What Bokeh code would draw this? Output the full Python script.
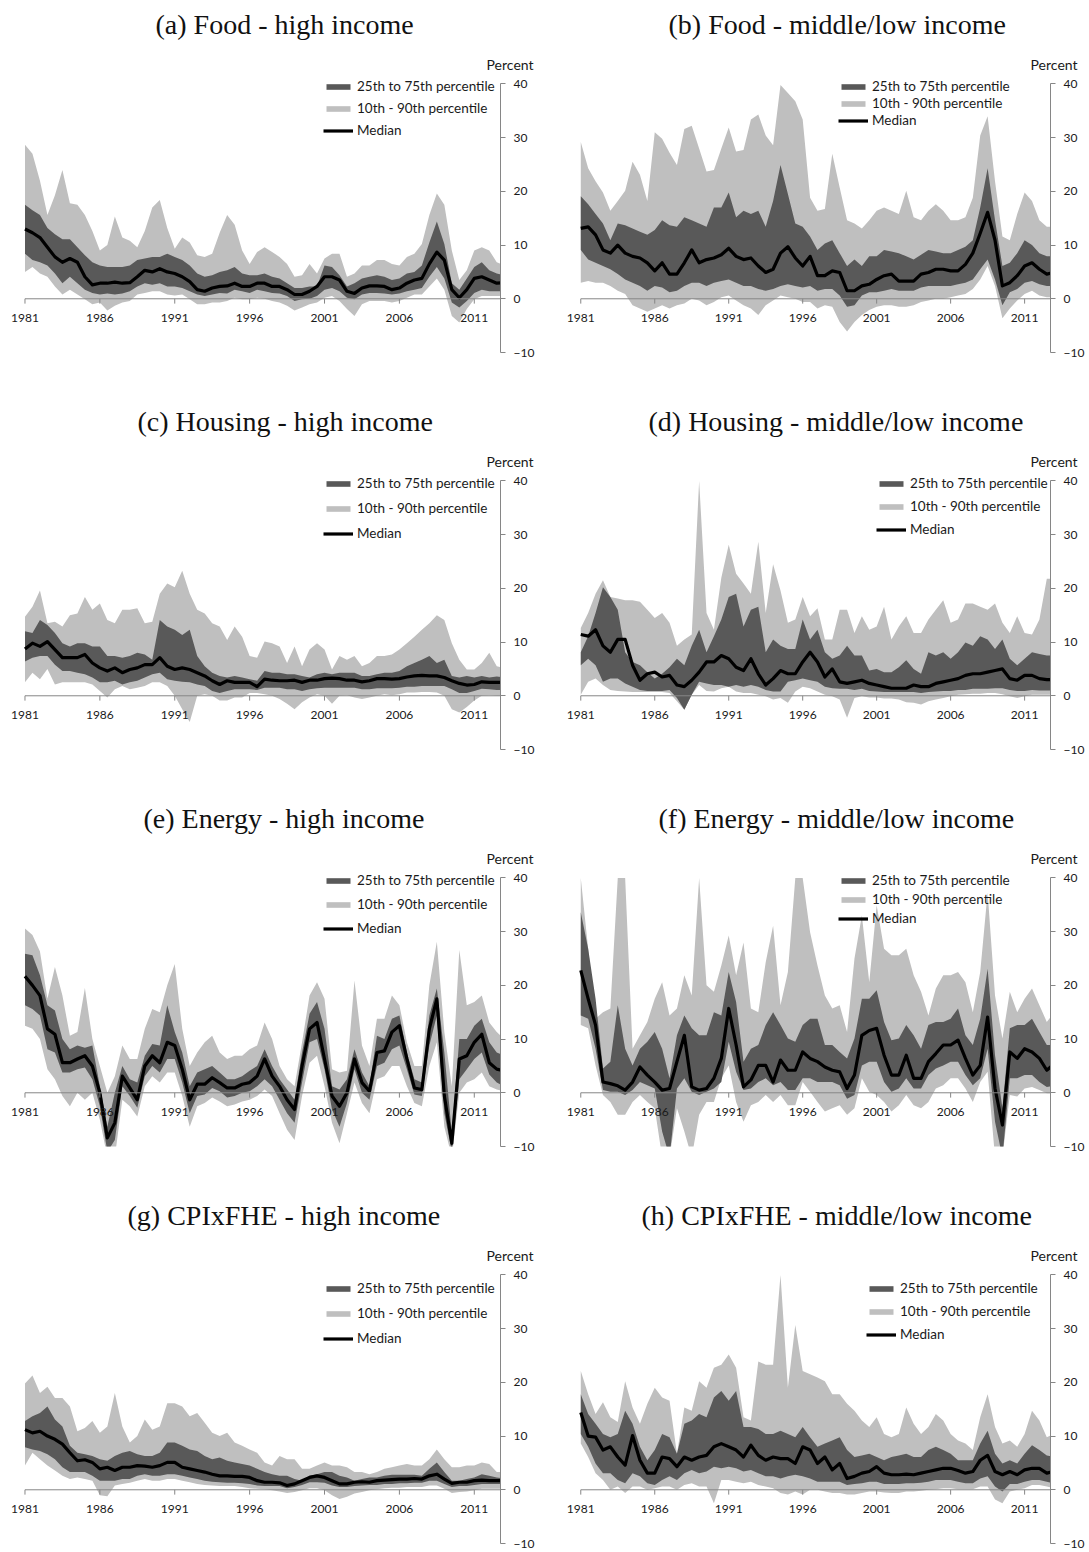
from bokeh.plotting import figure
from bokeh.layouts import column, row
from bokeh.models import Range1d, FixedTicker, Legend, LegendItem, Title
from bokeh.embed import file_html
from bokeh.resources import INLINE
from bokeh.core.properties import value

# ---------------- data (half-year grid, 1981.0 .. 2013.0) ----------------
YEARS = [1981 + 0.5 * i for i in range(65)]
TICK_YEARS = [1981, 1986, 1991, 1996, 2001, 2006, 2011]
TICK_LABELS = ["1981", "1986", "1991", "1996", "2001", "2006", "2011"]
Y_TICKS = [-10, 0, 10, 20, 30, 40]

TITLES = ["(a) Food - high income", "(b) Food - middle/low income",
          "(c) Housing - high income", "(d) Housing - middle/low income",
          "(e) Energy - high income", "(f) Energy - middle/low income",
          "(g) CPIxFHE - high income", "(h) CPIxFHE - middle/low income"]
LEGEND_LABELS = ["25th to 75th percentile", "10th - 90th percentile", "Median"]
UNIT_LABEL = "Percent"

FOOD_HI_P90 = [28.7, 27, 22, 15.6, 19.3, 24, 17.8, 17.5, 15.6, 12.6,
               9, 10, 15.3, 11.4, 10.8, 9.6, 12.6, 17, 18.4, 13.2,
               9.3, 11.4, 10.5, 8.1, 7.8, 8.4, 12.3, 15.6, 13.8, 9,
               6.5, 8.7, 9.6, 8.7, 7.8, 6.5, 4.1, 4.4, 6.5, 4.7,
               7.5, 8.4, 8.4, 4.1, 4.7, 6.2, 6.2, 7.2, 7.2, 6.5,
               6.2, 7.8, 8.4, 10.2, 15.6, 19.6, 17.5, 9, 3.5, 5.3,
               9, 9.6, 9, 6.8, 6.2]
FOOD_HI_P75 = [17.5, 16.5, 15.6, 13.2, 12, 11.1, 11.1, 9.6, 8.1, 6.8,
               6.2, 5.9, 5.9, 5.9, 6.2, 7.2, 7.5, 7.8, 7.8, 8.4,
               7.8, 7.2, 6.2, 4.7, 4.1, 4.4, 5, 5.3, 5.9, 4.7,
               4.4, 4.4, 4.7, 4.1, 3.8, 2.9, 2, 2, 2.3, 2.3,
               6.2, 5.9, 4.4, 2.3, 2.9, 3.8, 4.1, 4.4, 4.1, 3.5,
               3.8, 4.7, 5, 6.2, 10.5, 14.4, 10.2, 2.9, 1.7, 3.8,
               5.9, 6.8, 5.3, 4.7, 4.4]
FOOD_HI_MED = [13, 12.3, 11.4, 9.6, 7.8, 6.8, 7.5, 6.8, 4.1, 2.6,
               2.9, 2.9, 3.1, 2.9, 3, 4.1, 5.3, 5, 5.6, 5,
               4.7, 4.1, 3.2, 1.7, 1.4, 2, 2.3, 2.4, 2.9, 2.3,
               2.3, 2.9, 2.9, 2.3, 2.3, 1.7, 0.8, 0.8, 1.4, 2.3,
               4.1, 4.1, 3.5, 1.4, 1, 2, 2.4, 2.4, 2.3, 1.7,
               2, 2.9, 3.5, 3.8, 6.5, 8.7, 7.2, 1.7, 0.2, 1.7,
               3.8, 4.1, 3.5, 2.9, 3]
FOOD_HI_P25 = [8.4, 7.2, 6.8, 6.2, 4.7, 2.9, 4.1, 2.9, 1.7, 1.1,
               0.8, 1, 0.8, 1, 1.4, 2.3, 2.9, 2.6, 2.9, 2.3,
               2.3, 2, 1.4, 0.8, 0.5, 0.8, 1.1, 1, 1.7, 1.4,
               1.1, 1.7, 1.4, 1.1, 1, 0.5, -0.4, -0.1, 0, 0.5,
               1.7, 2, 1.4, 0.2, -0.1, 0.8, 1.1, 1.1, 1, 0.8,
               1, 1.4, 1.7, 2, 4.1, 5.9, 3.8, -0.7, -1.6, -0.4,
               1.1, 1.7, 1.4, 1.4, 1.4]
FOOD_HI_P10 = [5, 5.9, 4.7, 4.1, 2.3, 0.8, 1.7, 0.8, -0.1, -1,
               -0.7, -2.2, -1.3, -0.7, -0.4, 0.8, 1.1, 1.4, 1.4, 0.8,
               0.6, 0.8, -0.1, -1, -1, -0.7, -0.7, -0.4, 0.2, -0.1,
               -0.1, 0.2, 0, -0.4, -0.7, -1.3, -2.2, -1.6, -1, -0.7,
               0.2, 0.5, -0.4, -1.9, -3.2, -1, -0.4, -0.4, -0.4, -0.7,
               -0.4, 0.2, 0.8, 0.8, 2.3, 3.8, 1.7, -3.2, -4.4, -1.9,
               -0.1, 0.5, 0.5, 0.5, 0.5]

FOOD_LO_P90 = [29.2, 24.3, 21.9, 19.8, 16.4, 18.2, 20.1, 25.5, 23.1, 18.2,
               31, 29.8, 27.2, 24.9, 31.6, 32.2, 28, 23.7, 24, 28,
               31.9, 27.4, 27.7, 33.4, 34.3, 30.4, 28.6, 39.8, 38.3, 36.8,
               33.4, 18.8, 16.4, 16.7, 27, 20.7, 14.6, 14, 13.1, 14.6,
               16.4, 17, 16.4, 15.8, 20.1, 15.2, 14.6, 16.4, 17.6, 16.4,
               14.6, 14.6, 15.2, 18.8, 30.4, 34, 21.9, 11.6, 10.9, 15.8,
               19.8, 18.2, 14.6, 13.4, 13.4]
FOOD_LO_P75 = [19.1, 17.6, 15.8, 14, 10.9, 14, 13.7, 13.1, 12.5, 11.9,
               12.8, 14.6, 13.7, 13.4, 15.2, 14.6, 14, 13.4, 17, 17,
               19.8, 15.2, 16.4, 15.8, 16.4, 13.4, 18.2, 24.9, 19.5, 14,
               13.4, 11.6, 9.1, 10.3, 10.9, 8.5, 6.1, 7.3, 6.1, 7.9,
               7.9, 9.1, 8.8, 8.5, 7.9, 7.3, 8.2, 9.1, 8.8, 8.5,
               8.5, 9.1, 9.7, 10.9, 17, 24.3, 14.6, 6.1, 6.7, 8.5,
               10.9, 10, 8.5, 7.9, 7.9]
FOOD_LO_MED = [13.1, 13.4, 11.9, 9.1, 8.5, 10, 8.5, 7.9, 7.6, 6.7,
               5.2, 6.7, 4.6, 4.6, 6.7, 9.1, 6.7, 7.3, 7.6, 8.2,
               9.4, 7.9, 7.3, 7.6, 6.1, 4.9, 5.5, 8.5, 9.7, 7.6,
               6.1, 7.9, 4.3, 4.3, 5.2, 4.9, 1.5, 1.5, 2.4, 2.7,
               3.6, 4.3, 4.6, 3.3, 3.3, 3.3, 4.6, 4.9, 5.5, 5.5,
               5.2, 5.2, 6.4, 8.5, 12.2, 16.1, 10.9, 2.4, 3, 4.3,
               6.1, 6.7, 5.5, 4.6, 4.9]
FOOD_LO_P25 = [9.1, 7.3, 6.7, 6.1, 5.5, 4.6, 3.6, 3, 2.4, 1.5,
               2.4, 2.1, 1.2, 1.5, 2.4, 3, 3, 2.4, 3, 3.3,
               3.6, 3, 2.4, 2.4, 1.8, 1.5, 1.8, 2.4, 2.7, 2.4,
               2.1, 2.4, 1.5, 1.8, 1.8, 0.6, -1.5, -1.2, 0.6, 1.2,
               1.2, 1.5, 1.8, 1.5, 1.5, 1.5, 2.1, 2.4, 2.4, 2.4,
               2.4, 2.7, 3, 3.6, 5.5, 7.3, 3.6, -1.2, 1.2, 1.8,
               3, 3.3, 2.7, 2.4, 2.4]
FOOD_LO_P10 = [3, 3.3, 3, 3, 2.4, 1.5, 0.9, -1.2, -1.8, -2.4,
               -1.8, -1.2, -1.8, -1.2, -0.9, 0, -0.3, -1.2, -0.6, 0.3,
               0.6, -0.3, -1.2, -1.8, -3, -1.2, -0.3, 0.6, 0.3, 0,
               -0.6, -0.6, -1.8, -1.2, -1.5, -4.3, -6.1, -4.3, -3, -2.1,
               -1.5, -1.2, -1.2, -1.5, -1.5, -1.2, -0.6, -0.3, 0, 0,
               0.3, 0.6, 0.9, 1.8, 3.6, 6.1, 2.4, -3.6, -1.8, -0.3,
               0.9, 1.5, 0.6, 0.3, 0.3]

HOUS_HI_P90 = [14.7, 16.6, 19.6, 13.5, 13.8, 12.9, 15, 15.3, 18.4, 16,
               17.2, 14.1, 13.5, 16, 16, 16.3, 13.5, 13.8, 19, 20.9,
               20.2, 23.3, 19, 16, 15.3, 13.5, 12.9, 10.4, 12.9, 11,
               7.4, 7.1, 10.1, 9.8, 9.2, 6.1, 9.2, 5.5, 8.6, 9.8,
               8.6, 4.9, 7.4, 6.7, 7.4, 5.5, 6.1, 7.4, 7.4, 7.7,
               8.6, 9.8, 11, 12.3, 13.5, 15, 14.1, 9.8, 6.7, 4.9,
               4.9, 6.1, 8, 5.5, 5.2]
HOUS_HI_P75 = [12, 11.7, 14.1, 13.2, 11.7, 9.8, 9.2, 9.8, 9.8, 9.2,
               9.2, 7.4, 7.4, 7.1, 7.4, 8, 7.7, 6.7, 14.1, 12.9,
               12.3, 11.3, 12.3, 7.4, 5.5, 4.3, 3.7, 3.4, 3.7, 3.4,
               3.1, 2.8, 4.6, 4.3, 4.3, 4, 4, 3.7, 3.4, 4,
               4.3, 4, 4.3, 4.3, 4.3, 3.7, 3.7, 4, 4.3, 4.3,
               4.6, 5.5, 6.1, 6.7, 7.4, 6.1, 6.7, 3.7, 3.4, 3.7,
               3.4, 3.7, 3.4, 3.6, 3.4]
HOUS_HI_MED = [8.7, 9.8, 9.2, 10.1, 8.6, 7.1, 7.1, 7.1, 7.7, 6.1,
               5.2, 4.6, 5.2, 4.3, 4.9, 5.2, 5.8, 5.8, 7.1, 5.5,
               4.9, 5.2, 4.9, 4.3, 3.7, 2.8, 2.1, 2.8, 2.5, 2.5,
               2.5, 1.7, 3.1, 2.9, 2.8, 2.8, 2.9, 2.5, 2.9, 2.9,
               3.2, 3.3, 3.2, 2.9, 2.9, 2.6, 2.8, 3.2, 3.2, 3.1,
               3.2, 3.5, 3.7, 3.8, 3.7, 3.7, 3.4, 2.8, 2.3, 2,
               2.1, 2.6, 2.5, 2.5, 2.5]
HOUS_HI_P25 = [6.4, 7.1, 7.4, 7.4, 5.8, 4.6, 4.6, 4.3, 4, 3.4,
               2.5, 2.5, 2.8, 2.1, 2.5, 2.8, 3.4, 4, 4.3, 3.1,
               2.8, 2.6, 2.5, 2.1, 1.8, 0.9, 0.5, 0.9, 1.2, 1.2,
               1.2, 1.1, 1.5, 1.5, 1.5, 1.2, 1.2, 0.9, 1.2, 1.4,
               1.5, 1.5, 1.5, 1.5, 1.5, 1.2, 1.2, 1.4, 1.4, 1.4,
               1.5, 1.7, 1.7, 1.8, 1.8, 1.8, 1.8, 1.2, 0.5, 0.5,
               0.9, 1.3, 1.2, 1.1, 1.1]
HOUS_HI_P10 = [2.5, 4.3, 3.1, 5, 2.1, 2.5, 2.5, 2.5, 2.5, 2.1,
               0.9, -0.3, 1.2, 1.8, 1.2, 1.5, 1.8, 2.5, 2.5, 1.8,
               0, -2.5, -4.9, 0, 0.3, 0, -0.9, -0.9, -0.3, -0.3,
               0.5, 0.5, 0.3, 0, -0.6, -1.5, -2.5, -1.2, -0.3, 0.3,
               0, -1.5, 0, 0.1, -0.3, -0.6, -0.3, 0, 0.3, 0.1,
               0.3, 0.6, 0.6, 0.7, 0.7, 0.6, 0, -2.5, -3.1, -2.1,
               -0.9, 0, 0.1, 0, 0]

HOUS_LO_P90 = [12.6, 15.4, 19, 21.5, 18.4, 18.1, 17.8, 17.8, 17.5, 16,
               14.5, 15.4, 13.6, 9.3, 10.5, 11.4, 40, 15.4, 12.3, 22,
               28.1, 22.7, 20.9, 19, 28.7, 15.4, 24.5, 19.6, 13.6, 14.2,
               18.4, 14.8, 16.3, 10.5, 10.5, 16, 16, 11.7, 14.8, 12.3,
               12.9, 16.6, 10.5, 12.9, 14.8, 11.7, 11.7, 14.2, 16, 17.8,
               13.6, 14.2, 17.2, 17.2, 16.6, 16, 17.2, 13.6, 11.7, 14.8,
               11.7, 11.4, 14.2, 21.8, 21.8]
HOUS_LO_P75 = [8.1, 11.1, 15.4, 20.2, 18.4, 16, 8.1, 6.3, 5.7, 4.4,
               3.2, 4.1, 5.3, 6.9, 5.7, 9.3, 12.3, 8.1, 11.1, 14.2,
               18.4, 19, 12.9, 16, 16.6, 8.1, 10.5, 9.3, 8.7, 8.7,
               14.2, 10.5, 12.3, 8.1, 6.9, 7.5, 9.3, 7.5, 7.5, 4.7,
               5, 4.4, 4.4, 5.3, 6.6, 5, 4.1, 8.1, 7.5, 8.1,
               6.9, 8.1, 9.9, 9.3, 11.1, 10.5, 8.7, 10.5, 6.9, 5.7,
               6.9, 8.1, 7.8, 7.5, 7.5]
HOUS_LO_MED = [11.4, 11.1, 12.3, 9.3, 8.1, 10.5, 10.5, 5.7, 2.9, 4.1,
               4.4, 3.5, 3.8, 2, 1.7, 2.9, 4.4, 6.3, 6.3, 7.5,
               6.9, 5.3, 4.7, 6.9, 4.1, 2, 3.2, 4.7, 4.1, 4.1,
               6.3, 8.1, 6.3, 3.5, 5, 2.6, 2.3, 2.6, 2.9, 2.3,
               2, 1.7, 1.4, 1.4, 1.4, 2, 1.7, 1.7, 2.3, 2.6,
               2.9, 3.2, 3.8, 4.1, 4.1, 4.4, 4.7, 5, 3.2, 2.9,
               3.8, 3.8, 3.2, 3, 3]
HOUS_LO_P25 = [5.7, 6.9, 5.7, 2.6, 3.2, 3.2, 2.3, 1.7, 1.1, 0.9,
               0.9, 0.9, 1.1, -0.4, -2.6, 0.2, 2.6, 2.3, 2, 2,
               1.7, 2, 1.7, 2, 1.7, 1.1, 0.8, 0.8, 2.6, 2.9,
               3.2, 2.9, 2.6, 1.7, 1.4, 1.3, 1.3, 1.1, 1.3, 0.9,
               0.8, 0.7, 0.7, 0.7, 0.7, 0.7, 0.5, 0.7, 0.8, 0.9,
               0.9, 1.1, 1.1, 1.3, 1.3, 1.3, 1.4, 1.4, 1.1, 0.9,
               0.9, 1.1, 1, 1, 1]
HOUS_LO_P10 = [0.2, 2.6, 3.2, 2, 1.1, 0.9, 0.8, 0.7, 0.7, 0.7,
               0.7, 0.7, 0.5, -1, -2.6, 0.2, 2, 0.9, 0.8, 1.4,
               1.7, 0.8, 0.5, 0.5, 0.2, -0.1, -0.7, -0.4, -1.3, 0.8,
               1.7, 1.4, 0.8, 0.2, -0.1, -0.7, -4.1, -0.4, -0.1, -0.3,
               -0.3, -0.5, -0.5, -0.7, -1.2, -1.3, -1.6, -1, -0.7, -0.4,
               -0.1, 0.2, 0.3, 0.4, 0.4, 0.5, 0.5, 0.3, -0.1, -0.4,
               -0.1, 0.2, 0.2, 0.2, 0.2]

ENER_HI_P90 = [30.6, 29.4, 26.3, 17.5, 23.4, 18.1, 10.6, 11.3, 19.5, 10,
               5, 0, 3.1, 8.8, 6.3, 6.3, 11.9, 15.6, 15, 20,
               24, 11.9, 5, 7.5, 9.4, 10.6, 7.5, 6.3, 6.9, 6.9,
               8.1, 8.8, 13.1, 10, 5, 2.5, 1.2, 9.4, 18.1, 20.6,
               17.5, 4.4, 3.8, 4.1, 20.9, 8.8, 5, 13.8, 13.8, 18.1,
               16.3, 9.4, 5, 5, 20, 28.1, 11.3, 1.2, 26.6, 16.3,
               16.9, 18.1, 13.1, 11.3, 10]
ENER_HI_P75 = [25.9, 25.6, 21.9, 16.3, 15.3, 10, 8.1, 8.8, 8.4, 8.8,
               1.2, -6.3, 0, 5, 2.5, 1.9, 6.9, 9.1, 8.8, 16.3,
               11.3, 7.5, 1.2, 3.8, 4.4, 5, 3.8, 2.5, 2.5, 3.1,
               4.1, 5, 8.1, 5, 2.5, 0.6, -1.3, 7.5, 14.7, 16.9,
               11.9, 1.2, 0.6, 2.5, 8.1, 3.8, 1.2, 10.6, 10, 13.8,
               14.4, 7.5, 2.5, 1.9, 14.4, 19.4, 7.5, -7.5, 10, 10,
               12.5, 13.8, 9.4, 7.5, 6.9]
ENER_HI_MED = [21.7, 20, 18.1, 11.9, 10.9, 5.6, 5.6, 6.3, 6.9, 5,
               0, -8.4, -5.6, 3.1, 0.9, -1.3, 5, 6.9, 5.6, 9.4,
               8.8, 4.4, -1.3, 1.6, 1.6, 2.8, 1.9, 0.9, 0.9, 1.6,
               1.9, 3.1, 6.3, 3.1, 1.2, -1.3, -3.1, 5, 11.9, 13.1,
               6.3, -0.6, -2.5, 0, 6.3, 1.9, 0.3, 7.5, 7.8, 11.3,
               12.5, 6.3, 0.9, 0.6, 11.9, 17.5, -0.6, -9.4, 6.3, 6.9,
               9.4, 10.9, 5.6, 4.4, 4.1]
ENER_HI_P25 = [16.3, 15.6, 14.4, 8.1, 7.5, 3.8, 3.8, 4.4, 4.7, 2.5,
               -2.5, -11, -8.8, 1.2, -0.6, -2.8, 3.1, 5, 3.8, 6.3,
               6.3, 1.9, -3.8, -0.6, -0.3, 0.9, 0.3, -0.9, -0.6, 0,
               0.3, 1.2, 2.5, 1.2, -1.3, -3.8, -5.6, 1.9, 9.4, 10,
               4.4, -3.1, -6.3, -1.9, 4.4, 0, -1.3, 5, 5.6, 8.1,
               8.8, 4.4, -0.3, -0.6, 8.8, 14.4, -3.8, -11, 2.5, 4.4,
               6.3, 7.5, 3.4, 1.9, 1.2]
ENER_HI_P10 = [12.5, 11.9, 10, 4.4, 2.5, -0.6, -2.5, 0, -1.3, 0,
               -5, -12, -12, -1.3, -2.5, -4.4, 1.2, 3.1, 1.9, 3.8,
               3.8, -0.6, -6.3, -2.5, -1.9, -0.9, -1.6, -2.5, -2.2, -1.6,
               -1.3, -0.6, 0.6, -0.6, -3.8, -6.9, -8.8, -0.6, 5.6, 6.9,
               1.2, -5.6, -9.4, -3.8, 1.9, -1.9, -3.8, 2.5, 3.1, 5,
               5, 1.2, -1.9, -2.5, 5, 9.4, -6.3, -12, 0, 1.9,
               2.5, 3.8, 1.2, 0.6, 0.3]

ENER_LO_P90 = [40, 26.8, 13.8, 15, 15.7, 40, 40, 8.2, 10.7, 13.2,
               17.5, 20.6, 14.4, 15.7, 21.9, 18.1, 40, 20, 18.8, 23.7,
               29.3, 21.9, 28, 15.7, 15, 24.3, 31.1, 16.3, 22.5, 40,
               40, 29.9, 23.7, 18.1, 15.7, 16.3, 11.3, 25, 33, 20.6,
               34.9, 26.8, 25.6, 25.6, 26.8, 21.9, 18.8, 14.4, 19.4, 21.9,
               21.9, 22.5, 20.6, 15, 22.5, 37.3, 18.1, 10.1, 18.8, 15,
               17.5, 19.4, 16.3, 13.2, 15]
ENER_LO_P75 = [33.6, 26.8, 17.5, 4.5, 5.8, 16.3, 8.2, 5.1, 8.2, 9.5,
               11.3, 8.2, 2.7, 10.7, 14.4, 12, 10.7, 10.7, 15, 14.4,
               22.5, 16.9, 5.8, 8.2, 8.9, 12.6, 15, 12.6, 10.1, 9.5,
               12.6, 13.8, 13.8, 8.9, 8.9, 7.6, 6.4, 10.1, 17.5, 17.5,
               19.1, 13.2, 9.8, 10.1, 12.6, 10.7, 8.2, 12.6, 13.2, 13.2,
               13.8, 15.7, 10.7, 8.9, 13.8, 23.1, 7, -2.9, 12, 12.6,
               12.6, 13.8, 11.3, 8.9, 8.9]
ENER_LO_MED = [22.8, 17.5, 12.6, 2, 1.7, 1.3, 0.5, 2, 4.8, 3.3,
               2, 0.5, 0.8, 5.8, 10.7, 1.1, 0.5, 0.8, 2.7, 6.4,
               15.7, 8.9, 1.1, 2.4, 5.1, 5.1, 2, 6.1, 4.2, 4.2,
               7.6, 6.4, 5.8, 4.8, 4.2, 3.9, 0.8, 3.3, 10.7, 11.6,
               12, 7, 3.3, 3.3, 7, 2.7, 2.7, 5.8, 7.3, 8.9,
               8.9, 9.8, 6.4, 3.3, 5.1, 14.1, 0.8, -6, 7.6, 6.4,
               8.2, 7.6, 6.4, 4.2, 5.4]
ENER_LO_P25 = [14.4, 13.8, 8.2, 0.5, 0.2, 0.2, -0.4, 0.5, 2, 1.4,
               0.8, -7.2, -12, 0.8, 2.7, 0.2, -0.4, 0.2, 0.8, 2,
               9.5, 3.9, 0.5, 0.8, 2, 2.7, 1.4, 2, 0.5, 0.5,
               2.7, 2.7, 2, 2, 2, 1.4, -1.1, -0.4, 5.1, 5.8,
               5.8, 2, 0.2, 0.8, 2.7, 0.8, 0.8, 3.3, 4.5, 5.1,
               5.8, 5.8, 3.3, 1.4, 2.7, 8.2, -5.4, -12, 2.7, 2.7,
               3.3, 3.3, 2, 1.1, 1.3]
ENER_LO_P10 = [12.6, 12, 5.1, -0.4, -1.7, -4.1, -4.1, -1.7, -0.4, -1.7,
               -2.9, -12, -12, -2.9, -7.2, -12, -4.1, -1.7, -1.7, 2.7,
               5.1, -1.7, -5.4, -2.3, -1.7, -0.4, -1.7, -0.4, -2.3, -2.3,
               2, 0.2, -1.7, -3.5, -2.9, -2.3, -4.1, -2.9, 2.7, 0.2,
               -0.4, -1.7, -3.5, -2.3, -0.4, -2.3, -2.9, -1.7, 0.8, 1.4,
               2.7, 2.7, 0.8, -1.7, 2, 3.9, -12, -12, -0.4, -0.7,
               0.8, 1.1, 0.5, -0.1, -0.1]

CORE_HI_P90 = [19.8, 21.3, 18, 19.2, 17.1, 17.1, 15.5, 10.9, 11.5, 12.8,
               10.6, 11.8, 18, 11.8, 8.8, 10, 13.1, 11.2, 11.8, 16.1,
               16.1, 15.5, 13.7, 14.3, 12.5, 10.6, 10, 10.6, 8.8, 8.2,
               7.5, 6.9, 5.1, 4.5, 6.3, 5.7, 5.7, 3.9, 3.9, 4.5,
               5.1, 4.5, 4.5, 4.2, 3.3, 3.3, 2.9, 3.3, 3.9, 4.2,
               4.5, 4.8, 4.5, 4.5, 5.7, 7.5, 5.7, 4.2, 4.2, 4.5,
               4.5, 5.1, 4.8, 3.3, 3.3]
CORE_HI_P75 = [12.8, 13.7, 14.3, 15.5, 13.1, 11.8, 8.2, 6.9, 6.6, 6.3,
               5.7, 5.4, 6.3, 6.9, 7.2, 6.6, 6.3, 6.3, 6.9, 8.8,
               8.8, 8.2, 7.5, 7.2, 6.3, 5.7, 6, 5.4, 5.1, 4.8,
               4.5, 3.9, 3.3, 2.9, 2.6, 2.6, 2, 1.7, 2.6, 2.9,
               3.3, 3.3, 2.6, 2.3, 1.7, 2, 2.3, 2.3, 2.6, 2.8,
               2.8, 2.8, 2.8, 2.6, 3.9, 5.1, 3.3, 1.7, 1.7, 2,
               2.3, 2.9, 2.6, 2.3, 2.1]
CORE_HI_MED = [11.2, 10.6, 10.9, 10, 9.4, 8.5, 6.9, 5.4, 5.6, 5.1,
               3.9, 4.2, 3.6, 4.2, 4.2, 4.5, 4.4, 4.2, 4.5, 5.1,
               5.1, 4.2, 3.9, 3.6, 3.3, 2.9, 2.6, 2.6, 2.5, 2.5,
               2.3, 1.7, 1.4, 1.4, 1.3, 0.8, 1.1, 1.7, 2.3, 2.6,
               2.3, 1.7, 1.1, 1.1, 1.4, 1.5, 1.4, 1.7, 1.8, 1.9,
               2, 2, 2.1, 2, 2.6, 2.9, 2, 1.2, 1.4, 1.4,
               1.7, 1.8, 1.7, 1.7, 1.7]
CORE_HI_P25 = [7.9, 7.5, 7.2, 6.6, 5.7, 4.2, 3.3, 3.3, 3.3, 2.6,
               1.7, 1.7, 1.7, 2, 2, 2.6, 2.9, 2.6, 2.6, 2.9,
               2.9, 2.6, 2.3, 2, 1.7, 1.5, 1.4, 1.3, 1.3, 1.2,
               1.1, 0.8, 0.7, 0.7, 0.7, 0.3, 0.5, 0.9, 1.4, 1.4,
               1.3, 0.8, 0.5, 0.5, 0.7, 0.8, 0.9, 0.9, 1.1, 1.1,
               1.2, 1.2, 1.3, 1.3, 1.7, 1.7, 1.1, 0.5, 0.7, 0.7,
               0.9, 1.1, 1.1, 1.1, 1.1]
CORE_HI_P10 = [4.5, 6.9, 5.7, 4.5, 3.6, 2.6, 2, 2.3, 2, 1.7,
               -1, -1.2, 0.8, 1.1, 1.3, 1.7, 2, 1.7, 1.7, 2,
               2, 1.7, 1.4, 1.1, 0.9, 0.8, 0.7, 0.7, 0.7, 0.5,
               0.3, 0.2, 0.1, -0.1, -0.3, -0.6, -0.4, -0.1, 0.3, 0.3,
               -0.1, -1, -1.7, -1.3, -0.7, -0.4, -0.1, 0.1, 0.3, 0.4,
               0.4, 0.5, 0.5, 0.5, 0.8, 0.8, 0.2, -0.6, -0.4, -0.3,
               -0.1, 0.2, 0.2, 0.2, 0.2]

CORE_LO_P90 = [22.1, 17.8, 14.1, 16.3, 13.5, 12.6, 20.2, 15.3, 12.3, 16,
               19, 17.2, 16.6, 6.7, 15.3, 14.7, 20.2, 19, 22.7, 23.3,
               25.2, 22.7, 13.5, 12.9, 23.9, 23.3, 23.3, 40, 19, 30.7,
               22.1, 21.5, 20.9, 20.2, 17.8, 17.8, 16, 14.7, 12.9, 11.7,
               13.5, 10.4, 9.8, 10.4, 15.3, 12.3, 10.4, 11.7, 14.1, 12.9,
               10.4, 9.2, 8.6, 7.4, 13.5, 17.8, 11.7, 8.6, 9.2, 8,
               10.4, 14.7, 12.9, 9.8, 10.4]
CORE_LO_P75 = [17.8, 14.1, 12.3, 10.4, 9.8, 10.4, 14.7, 12.3, 8, 5.5,
               7.4, 10.4, 9.8, 6.7, 12.3, 12.9, 14.1, 13.5, 17.2, 18.4,
               16.6, 18.4, 11.7, 11.7, 11.3, 10.4, 10.4, 11, 10.4, 9.8,
               11.7, 9.8, 8, 8.6, 9.2, 9.8, 7.4, 6.1, 6.4, 6.7,
               6.1, 5.5, 6.1, 6.4, 6.7, 6.1, 6.1, 7.4, 8, 7.4,
               6.7, 5.5, 5.5, 5.5, 8.6, 11, 6.7, 4.9, 5.5, 4.9,
               6.7, 8.3, 7.4, 6.4, 6.1]
CORE_LO_MED = [14.4, 10, 9.8, 7.4, 8, 6.1, 4.6, 10.1, 5.5, 3.1,
               3.1, 6.1, 5.8, 4.3, 6.1, 5.5, 6.1, 6.4, 8, 8.6,
               8, 7.4, 6.1, 8.3, 6.4, 5.5, 6.1, 5.8, 5.8, 4.9,
               8, 7.4, 4.9, 6.1, 3.7, 4.9, 2.1, 2.5, 3.1, 3.4,
               4.3, 3.1, 2.8, 2.8, 2.9, 2.8, 3.1, 3.4, 3.7, 4,
               4, 3.6, 3.1, 3.4, 5.5, 6.4, 3.4, 2.8, 3.4, 2.8,
               3.7, 4, 4, 3.1, 3.4]
CORE_LO_P25 = [10.4, 8, 4.9, 3.1, 3.1, 1.8, 1.2, 3.1, 2.5, 1.2,
               0.9, 1.8, 2.5, 1.8, 3.1, 3.7, 3.1, 3.4, 4.3, 4,
               4.3, 4, 3.4, 3.7, 3.1, 2.5, 2.5, 2.1, 2.5, 2.8,
               2.5, 2.1, 1.5, 1.5, 1.5, 1.5, 0.9, 1.1, 1.2, 1.5,
               1.5, 1.1, 1.1, 1.1, 1.2, 1.2, 1.3, 1.5, 1.8, 1.8,
               1.8, 1.5, 1.2, 1.2, 2.1, 2.5, 0.6, -0.3, 1.1, 1.1,
               1.5, 1.8, 1.8, 1.5, 1.2]
CORE_LO_P10 = [8.6, 6.1, 3.1, 1.8, 0, 0.6, -0.6, 0.6, 0.6, 0,
               0.3, 0.6, 0.6, 0, 0.9, 1.2, 0.6, 0.6, -2.5, 1.8,
               1.8, 1.5, 1.2, 1.5, 0.9, 0.6, 0.3, -0.6, -0.9, -0.3,
               -0.9, 0, 0, -0.3, -0.6, -0.6, -0.9, -0.9, -0.6, -0.3,
               -0.3, -0.5, -0.6, -0.6, -0.3, -0.3, -0.2, 0, 0.1, 0.3,
               0.3, 0.1, 0.1, 0.1, 0.6, 0.6, -1.8, -2.5, -0.3, 0,
               0.3, 0.9, 0.9, 0.6, 0.3]

SERIES = [
    (FOOD_HI_P10, FOOD_HI_P25, FOOD_HI_MED, FOOD_HI_P75, FOOD_HI_P90),
    (FOOD_LO_P10, FOOD_LO_P25, FOOD_LO_MED, FOOD_LO_P75, FOOD_LO_P90),
    (HOUS_HI_P10, HOUS_HI_P25, HOUS_HI_MED, HOUS_HI_P75, HOUS_HI_P90),
    (HOUS_LO_P10, HOUS_LO_P25, HOUS_LO_MED, HOUS_LO_P75, HOUS_LO_P90),
    (ENER_HI_P10, ENER_HI_P25, ENER_HI_MED, ENER_HI_P75, ENER_HI_P90),
    (ENER_LO_P10, ENER_LO_P25, ENER_LO_MED, ENER_LO_P75, ENER_LO_P90),
    (CORE_HI_P10, CORE_HI_P25, CORE_HI_MED, CORE_HI_P75, CORE_HI_P90),
    (CORE_LO_P10, CORE_LO_P25, CORE_LO_MED, CORE_LO_P75, CORE_LO_P90),
]

# ---------------- style / layout ----------------
LIGHT = "#bfbfbf"
DARK = "#595959"
AXIS_GRAY = "#868686"
TEXT_COLOR = "#1a1a1a"
X_START, X_END = 1979.9, 2012.75
Y_START, Y_END = -10, 41.2
FRAME_H = 276
TOP = 76
ITEM_H = 17
Y40_OFF = (Y_END - 40) * FRAME_H / (Y_END - Y_START)

# title left offsets (px from frame left), legend placement:
# (swatch x rel. frame left, first row centre rel. the 40 line, row gap)
TITLE_OFFSETS = [147, 104, 129, 84, 135, 94, 119, 77]
LEGEND_POS = [(315, 4, 22), (274, 4, 17.5), (315, 4, 25), (312, 4, 23.5),
              (315, 4, 24), (274, 4, 19), (315, 15, 25), (302, 15, 23.5)]


def make_panel(idx):
    col = idx % 2
    rw = idx // 2
    p10, p25, med, p75, p90 = SERIES[idx]
    width = 538 if col == 0 else 550
    height = 397 if rw < 3 else 360
    bl = 8 if col == 0 else 26
    br = 38
    p = figure(width=width, height=height, output_backend="svg", toolbar_location=None,
               title=None,
               x_range=Range1d(X_START, X_END), y_range=Range1d(Y_START, Y_END),
               x_axis_location=None, y_axis_location="right",
               min_border_left=bl, min_border_right=br, min_border_top=TOP,
               min_border_bottom=height - TOP - FRAME_H)
    p.outline_line_color = None
    p.grid.visible = False
    p.background_fill_color = "white"
    p.border_fill_color = "white"

    # unit label (nearest to the frame) and panel title above it
    p.add_layout(Title(text=UNIT_LABEL, align="right", offset=-33 if col == 0 else -27,
                       standoff=9, vertical_align="bottom",
                       text_font="Lato", text_font_size="14px", text_font_style="normal",
                       text_color=TEXT_COLOR), "above")
    p.add_layout(Title(text=TITLES[idx], align="left", offset=TITLE_OFFSETS[idx],
                       standoff=16, vertical_align="top",
                       text_font="Liberation Serif", text_font_size="28px",
                       text_font_style="normal", text_color="#111111"), "above")

    ax = p.yaxis[0]
    ax.ticker = FixedTicker(ticks=Y_TICKS)
    ax.bounds = (-10, 40)
    ax.axis_line_color = AXIS_GRAY
    ax.major_tick_line_color = AXIS_GRAY
    ax.minor_tick_line_color = None
    ax.major_tick_in = 0
    ax.major_tick_out = 5
    ax.major_label_standoff = 8
    ax.major_label_text_font = "Lato"
    ax.major_label_text_font_size = "12px"
    ax.major_label_text_color = TEXT_COLOR

    r_light = p.varea(x=YEARS, y1=p10, y2=p90, fill_color=LIGHT, fill_alpha=1)
    r_dark = p.varea(x=YEARS, y1=p25, y2=p75, fill_color=DARK, fill_alpha=1)
    r_med = p.line(x=YEARS, y=med, line_color="black", line_width=3.2, line_join="round")

    # category (horizontal) axis drawn at zero, over the bands
    n = len(TICK_YEARS)
    p.segment(x0=[TICK_YEARS[0]], x1=[X_END], y0=[0], y1=[0],
              line_color=AXIS_GRAY, line_width=1)
    p.segment(x0=TICK_YEARS, x1=TICK_YEARS, y0=[0] * n, y1=[-0.9] * n,
              line_color=AXIS_GRAY, line_width=1)
    p.text(x=TICK_YEARS, y=[0] * n, text=TICK_LABELS,
           text_font=value("Lato"), text_font_size="12px", text_color=TEXT_COLOR,
           text_align="center", text_baseline="middle", y_offset=19)

    lx, first_c, gap = LEGEND_POS[idx]
    spacing = int(round(gap - ITEM_H))
    leg_h = 3 * ITEM_H + 2 * spacing
    ly = FRAME_H - (Y40_OFF + first_c - ITEM_H / 2) - leg_h
    legend = Legend(items=[LegendItem(label=LEGEND_LABELS[0], renderers=[r_dark]),
                           LegendItem(label=LEGEND_LABELS[1], renderers=[r_light]),
                           LegendItem(label=LEGEND_LABELS[2], renderers=[r_med])],
                    location=(lx, ly), orientation="vertical",
                    glyph_width=30, glyph_height=7, label_height=ITEM_H,
                    label_standoff=4, spacing=spacing, padding=0, margin=0,
                    label_text_font="Lato", label_text_font_size="13.5px",
                    label_text_color=TEXT_COLOR,
                    border_line_alpha=0, background_fill_alpha=0)
    p.add_layout(legend)
    return p


panels = [make_panel(i) for i in range(8)]
layout = column(row(panels[0], panels[1]), row(panels[2], panels[3]),
                row(panels[4], panels[5]), row(panels[6], panels[7]))

open("out.html", "w").write(file_html(layout, INLINE))
